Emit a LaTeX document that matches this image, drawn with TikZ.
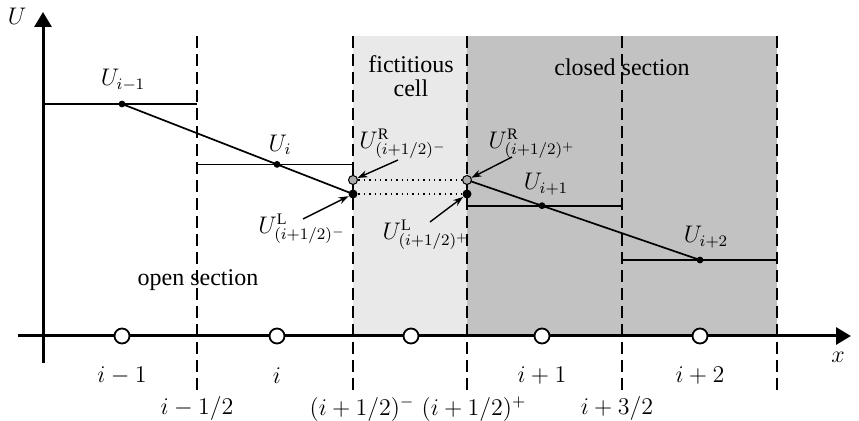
\documentclass[tikz,border=0pt]{standalone}
\usepackage{fontspec}
\setmainfont{Liberation Serif}
\usetikzlibrary{arrows.meta}

\tikzset{
  cellline/.style={line width=0.85pt},
  facedash/.style={line width=1.1pt,dash pattern=on 6pt off 3pt},
  axisline/.style={line width=1.5pt,-{Triangle[length=7.5pt,width=8.5pt]}},
  gridpt/.style={circle,draw,line width=0.9pt,fill=white,minimum size=7.5pt,inner sep=0pt},
  valdot/.style={circle,fill=black,minimum size=3.4pt,inner sep=0pt},
  facedot/.style={circle,fill=black,minimum size=4.5pt,inner sep=0pt},
  greydot/.style={circle,draw=black,line width=0.5pt,fill=gray!65,minimum size=4.5pt,inner sep=0pt},
  pointer/.style={-{Stealth[length=5pt,width=3.5pt]},line width=0.7pt},
}

\begin{document}
\begin{tikzpicture}[x=0.5pt,y=-0.5pt,font=\fontsize{12}{14}\selectfont]
        \useasboundingbox (0,0) rectangle (859,421);

        \fill[gray!17] (353,36) rectangle (467,336);
        \fill[gray!48] (467,36) rectangle (777,336);

        \foreach \x/\nm in {197/a,353/b,467/c,622/d,777/e}{
            \coordinate (top\nm) at (\x,36);
            \coordinate (bot\nm) at (\x,391);
            \draw[facedash] (top\nm) -- (bot\nm);
        }

        \coordinate (xbeg) at (18,336);
        \coordinate (xend) at (851,336);
        \coordinate (ybeg) at (43,363);
        \coordinate (yend) at (43,12);
        \draw[axisline] (xbeg) -- (xend);
        \draw[axisline] (ybeg) -- (yend);
        \node (ulab) at (17,16) {$U$};
        \node (xlab) at (838,357) {$x$};

        \coordinate (pUim1) at (122,104);
        \coordinate (pUi)   at (277,164.4);
        \coordinate (pULm)  at (353,194);
        \coordinate (pURm)  at (353,180);
        \coordinate (pURp)  at (467,180);
        \coordinate (pULp)  at (467,194);
        \coordinate (pUip1) at (542,205.7);
        \coordinate (pUip2) at (700,260);

        \draw[cellline] (43,104) -- (197,104);
        \draw[cellline] (197,164.4) -- (353,164.4) -- (pURm);
        \draw[cellline] (pULp) -- (467,205.7) -- (622,205.7);
        \draw[cellline] (622,260) -- (777,260);
        \draw[cellline] (pUim1) -- (pULm);
        \draw[cellline] (pURp) -- (pUip2);
        \draw[dotted,line width=0.7pt] (pURm) -- (pURp);
        \draw[dotted,line width=0.7pt] (pULm) -- (pULp);

        \foreach \p in {Uim1,Ui,Uip1,Uip2}{
            \node[valdot] (\p) at (p\p) {};
        }
        \node[facedot] (ULm) at (pULm) {};
        \node[facedot] (ULp) at (pULp) {};
        \node[greydot] (URm) at (pURm) {};
        \node[greydot] (URp) at (pURp) {};

        \node (lUim1) at (123,80)  {$U_{i-1}$};
        \node (lUi)   at (280,145) {$U_i$};
        \node (lUip1) at (546,184) {$U_{i+1}$};
        \node (lUip2) at (706,237) {$U_{i+2}$};

        \node (lURm) at (403,144) {$U^{\mathrm{R}}_{(i+1/2)^-}$};
        \node (lURp) at (532,144) {$U^{\mathrm{R}}_{(i+1/2)^+}$};
        \node (lULm) at (302,229) {$U^{\mathrm{L}}_{(i+1/2)^-}$};
        \node (lULp) at (426,235) {$U^{\mathrm{L}}_{(i+1/2)^+}$};
        \draw[pointer] (398,160) -- (URm);
        \draw[pointer] (512,157) -- (URp);
        \draw[pointer] (303,219) -- (ULm);
        \draw[pointer] (430,222) -- (ULp);

        \node (fict) at (411,64) {fictitious};
        \node (cell) at (411,88) {cell};
        \node (clsd) at (622,67) {closed section};
        \node (opn)  at (198,280) {open section};

        \foreach \x/\nm/\lbl in {122/nA/{i-1},277/nB/{i},411/nC/{},542/nD/{i+1},700/nE/{i+2}}{
            \node[gridpt] (\nm) at (\x,336) {};
            \node (l\nm) at (\x,376) {$\lbl$};
        }

        \foreach \x/\nm/\lbl in {197/fA/{i-1/2},362/fB/{(i+1/2)^-},474/fC/{(i+1/2)^+},617/fD/{i+3/2}}{
            \node (\nm) at (\x,409) {$\lbl$};
        }
\end{tikzpicture}
\end{document}
